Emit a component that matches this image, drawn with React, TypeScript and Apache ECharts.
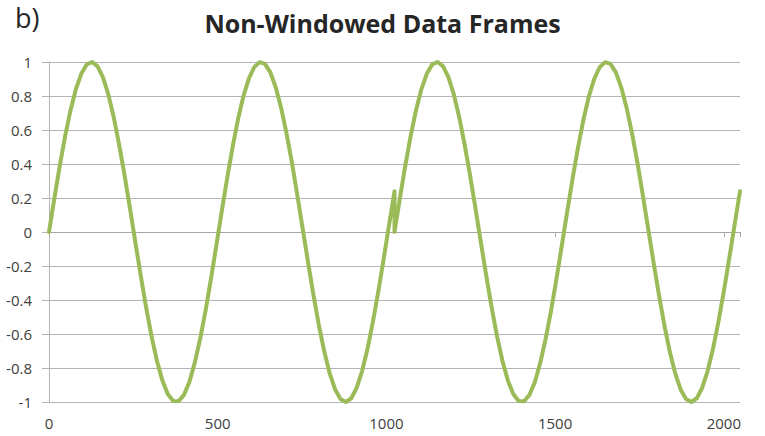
import React, { useEffect, useRef } from "react";
import * as echarts from "echarts";

// Sample index within one frame (every 16th sample of a 1024-sample frame)
const sampleOffsets = [
  0, 16, 32, 48, 64, 80, 96, 112, 128, 144, 160, 176, 192, 208, 224, 240,
  256, 272, 288, 304, 320, 336, 352, 368, 384, 400, 416, 432, 448, 464, 480, 496,
  512, 528, 544, 560, 576, 592, 608, 624, 640, 656, 672, 688, 704, 720, 736, 752,
  768, 784, 800, 816, 832, 848, 864, 880, 896, 912, 928, 944, 960, 976, 992, 1008,
  1024,
];
// Amplitude read at those offsets (same in every frame)
const frameValues = [
  0, 0.199, 0.39, 0.565, 0.718, 0.842, 0.932, 0.986, 1.0, 0.974, 0.909, 0.808, 0.674, 0.513, 0.333, 0.139,
  -0.061, -0.258, -0.445, -0.614, -0.759, -0.873, -0.953, -0.994, -0.996, -0.958, -0.882, -0.77, -0.628, -0.462, -0.276, -0.079,
  0.121, 0.316, 0.498, 0.661, 0.797, 0.901, 0.969, 0.999, 0.989, 0.939, 0.851, 0.73, 0.58, 0.408, 0.216, 0.018,
  -0.181, -0.373, -0.55, -0.705, -0.832, -0.926, -0.982, -1.0, -0.978, -0.916, -0.818, -0.687, -0.529, -0.35, -0.157, 0.043,
  0.24,
];
const frameStarts = [0, 1024];
const xTicks = [0, 500, 1000, 1500, 2000];
const yTicks = [-1, -0.8, -0.6, -0.4, -0.2, 0, 0.2, 0.4, 0.6, 0.8, 1];
const titleText = "Non-Windowed Data Frames";
const panelLabel = "b)";

export default function App() {
  const ref = useRef<HTMLDivElement>(null);
  useEffect(() => {
    document.body.style.margin = "0";
    if (!ref.current) return;
    const chart = echarts.init(ref.current, undefined, { renderer: "svg" });
    const data: [number, number][] = [];
    frameStarts.forEach((start) => {
      sampleOffsets.forEach((off, i) => data.push([start + off, frameValues[i]]));
    });
    const font = "'Open Sans', 'Noto Sans', sans-serif";
    const gray = "#b4b4b4";
    chart.setOption({
      animation: false,
      backgroundColor: "#ffffff",
      title: {
        text: titleText,
        left: "center",
        top: 5,
        textStyle: { fontFamily: font, fontSize: 25, fontWeight: "bold", color: "#262626" },
      },
      graphic: [
        {
          type: "text",
          left: 15,
          top: 4,
          style: { text: panelLabel, font: `27px ${font}`, fill: "#262626" },
        },
      ],
      grid: { left: 49, right: 25, top: 62, bottom: 34, containLabel: false },
      xAxis: [
        {
          type: "value",
          min: 0,
          max: 2048,
          interval: 500,
          axisLine: { show: false, onZero: false },
          axisTick: { show: false },
          splitLine: { show: false },
          axisLabel: {
            fontFamily: font,
            fontSize: 15,
            color: "#404040",
            margin: 13,
            formatter: (v: number) => (xTicks.includes(v) ? String(v) : ""),
          },
        },
        {
          type: "value",
          min: 0,
          max: 2048,
          interval: 500,
          position: "bottom",
          axisLine: { show: true, onZero: true, lineStyle: { color: "#a6a6a6", width: 1 } },
          axisTick: { show: true, length: 5, lineStyle: { color: "#a6a6a6" } },
          splitLine: { show: false },
          axisLabel: { show: false },
        },
      ],
      yAxis: {
        type: "value",
        min: -1,
        max: 1,
        interval: 0.2,
        axisLine: { show: true, lineStyle: { color: gray, width: 1 } },
        axisTick: { show: true, length: 7, lineStyle: { color: gray } },
        splitLine: { show: true, lineStyle: { color: gray, width: 1 } },
        axisLabel: {
          fontFamily: font,
          fontSize: 15,
          color: "#404040",
          margin: 17,
          formatter: (v: number) => {
            const r = Math.round(v * 10) / 10;
            return yTicks.includes(r) ? String(r) : "";
          },
        },
      },
      series: [
        {
          type: "line",
          data,
          xAxisIndex: 0,
          showSymbol: false,
          symbol: "none",
          lineStyle: { color: "#9bbb59", width: 4, join: "round", cap: "round" },
          z: 5,
        },
      ],
    });
    return () => chart.dispose();
  }, []);
  return <div ref={ref} style={{ width: 765, height: 436 }} />;
}
